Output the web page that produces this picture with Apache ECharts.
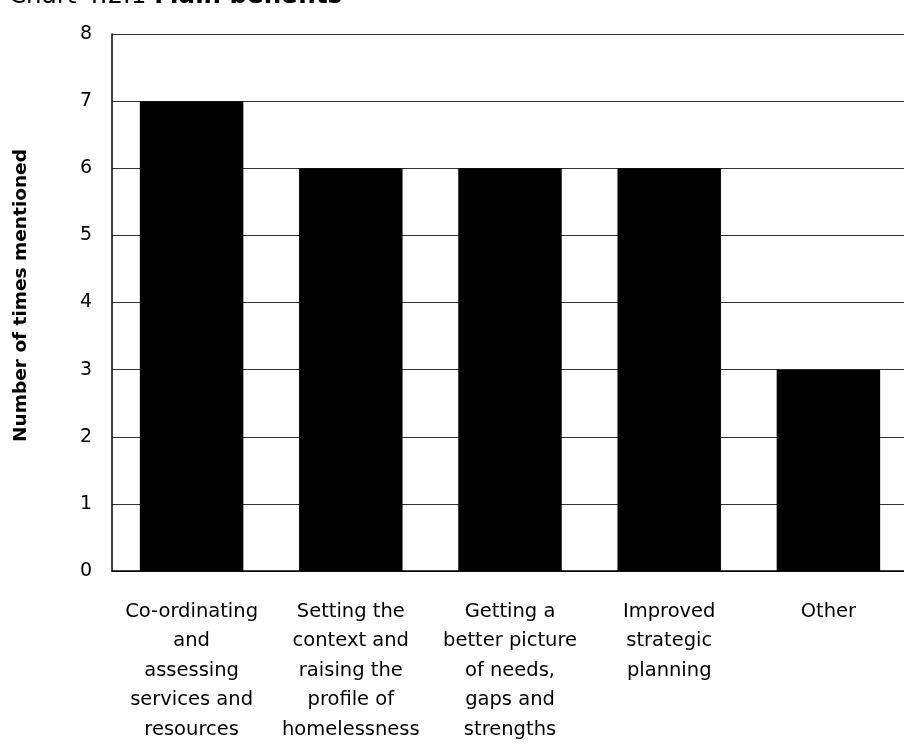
<!DOCTYPE html>
<html>
<head>
<meta charset="utf-8">
<style>
  html, body { margin: 0; padding: 0; background: #fff; }
  #chart { width: 904px; height: 747px; }
</style>
<script src="https://cdn.jsdelivr.net/npm/echarts@6/dist/echarts.min.js"></script>
</head>
<body>
<div id="chart"></div>
<script>
// Main benefits: how often each benefit was mentioned
const categories = [
  'Co-ordinating\nand\nassessing\nservices and\nresources',
  'Setting the\ncontext and\nraising the\nprofile of\nhomelessness',
  'Getting a\nbetter picture\nof needs,\ngaps and\nstrengths',
  'Improved\nstrategic\nplanning',
  'Other'
];
const mentions = [7, 6, 6, 6, 3];
const yTicks = { min: 0, max: 8, interval: 1 };

const FONT = '"DejaVu Sans", "Noto Sans", sans-serif';

const chart = echarts.init(document.getElementById('chart'), null, { renderer: 'canvas' });
chart.setOption({
  animation: false,
  backgroundColor: '#fff',
  title: {
    text: '{r|Chart 4.2.1 }{b|Main benefits}',
    left: 4,
    top: -21,
    textStyle: {
      fontWeight: 'normal',
      rich: {
        r: { fontFamily: FONT, fontSize: 24.5, fontWeight: 'normal', color: '#000' },
        b: { fontFamily: FONT, fontSize: 24.5, fontWeight: 'bold', color: '#000' }
      }
    }
  },
  grid: { left: 112, right: -4, top: 34, bottom: 176, containLabel: false, outerBoundsMode: 'none' },
  xAxis: {
    type: 'category',
    data: categories,
    axisLine: { show: true, lineStyle: { color: '#000', width: 1.5 } },
    axisTick: { show: false },
    axisLabel: {
      interval: 0,
      margin: 26,
      fontFamily: FONT,
      fontSize: 19.5,
      lineHeight: 29.5,
      color: '#000',
      align: 'center'
    }
  },
  yAxis: {
    type: 'value',
    min: yTicks.min,
    max: yTicks.max,
    interval: yTicks.interval,
    name: 'Number of times mentioned',
    nameLocation: 'middle',
    nameGap: 81,
    nameRotate: 90,
    nameTextStyle: {
      fontFamily: FONT, fontSize: 18.5, fontWeight: 'bold', color: '#000',
      padding: [0, 0, 0, 14]
    },
    axisLine: { show: true, lineStyle: { color: '#000', width: 1.5 } },
    axisTick: { show: false },
    axisLabel: { margin: 20, fontFamily: FONT, fontSize: 19, color: '#000' },
    splitLine: { show: true, lineStyle: { color: '#333', width: 1.2 } }
  },
  series: [{
    type: 'bar',
    data: mentions,
    barCategoryGap: '35%',
    itemStyle: { color: '#000' },
    silent: true
  }]
});
</script>
</body>
</html>
